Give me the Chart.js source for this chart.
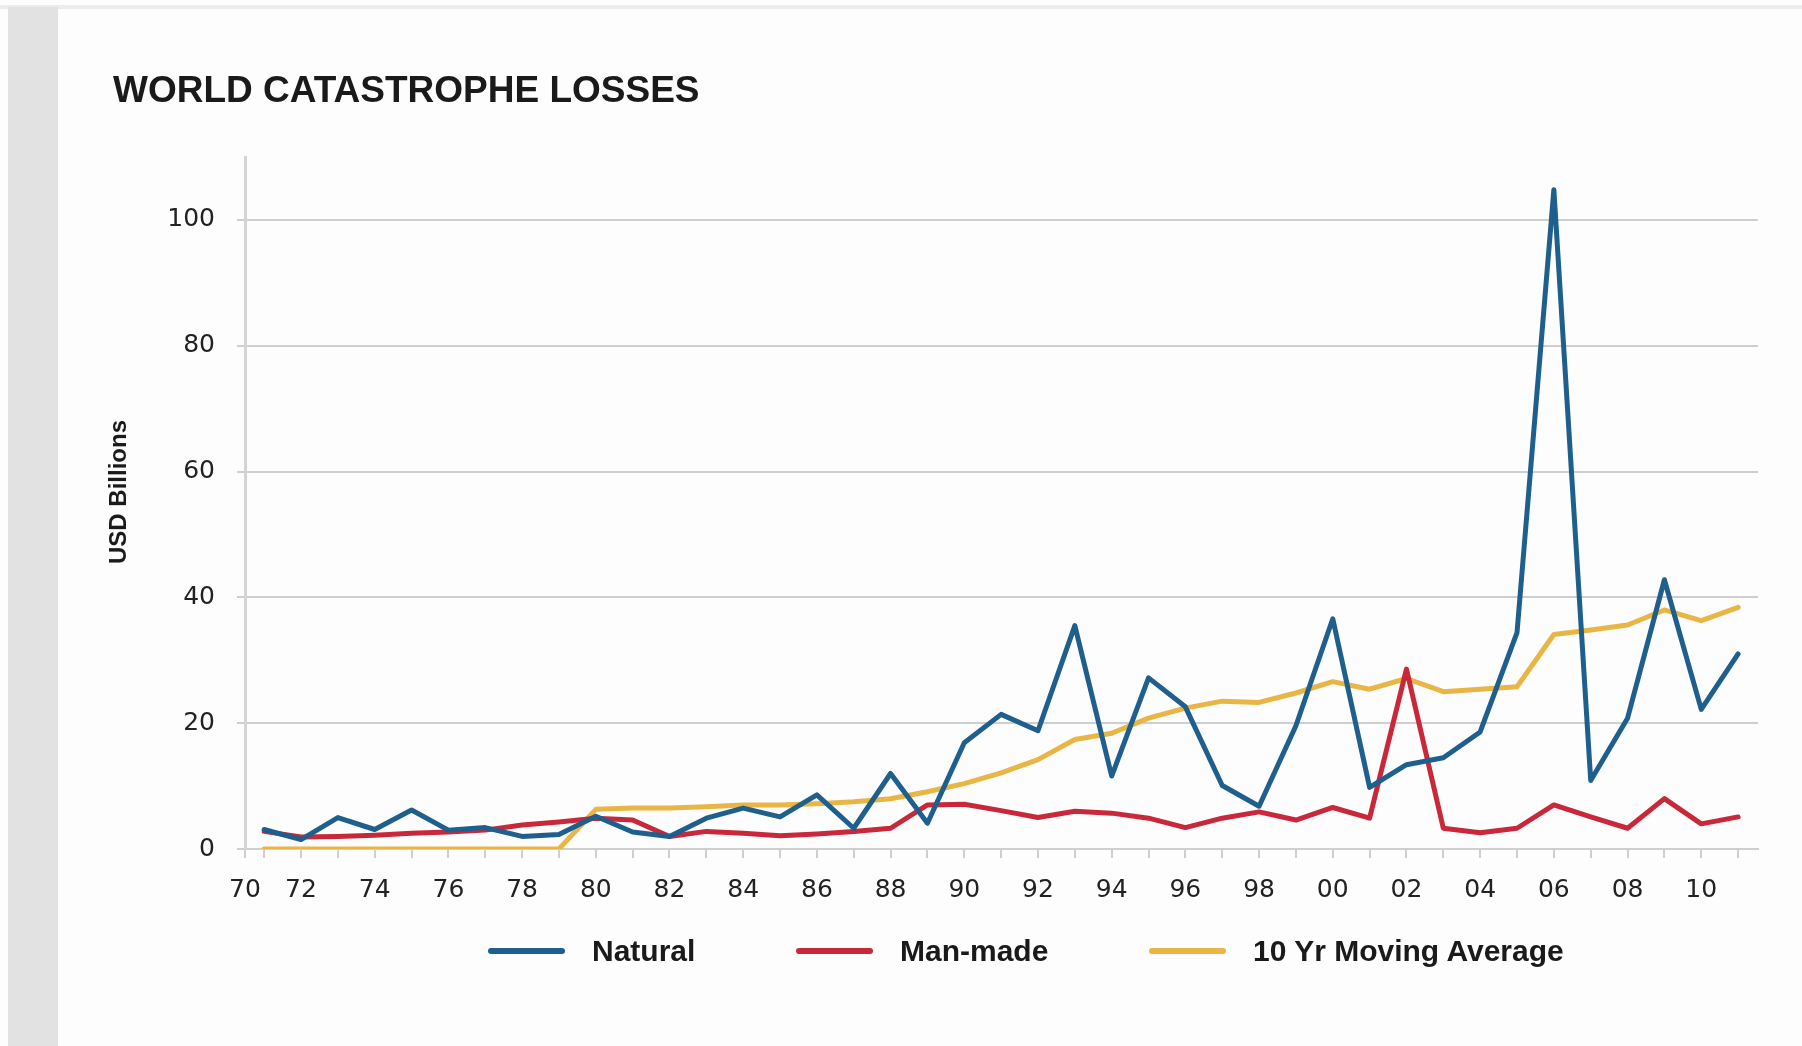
<!DOCTYPE html>
<html>
<head>
<meta charset="utf-8">
<script src="https://cdn.jsdelivr.net/npm/chart.js@4/dist/chart.umd.min.js"></script>
<style>
  html, body { margin: 0; padding: 0; background: #ffffff; }
  #wrap { position: relative; width: 1802px; height: 1046px; overflow: hidden; background: #fdfdfd; }
  #topline { position: absolute; left: 0; top: 5px; width: 1802px; height: 4px; background: #ececec; }
  #strip { position: absolute; left: 8px; top: 7px; width: 50px; height: 1039px; background: #e2e2e2; }
  #title { position: absolute; left: 113px; top: 69px; font: bold 37px "Liberation Sans", Arial, sans-serif; color: #1a1a1a; white-space: nowrap; }
  #ytitle { position: absolute; left: 118px; top: 492px; transform: translate(-50%, -50%) rotate(-90deg); font: bold 24px "Liberation Sans", Arial, sans-serif; color: #1a1a1a; white-space: nowrap; }
  #legend { position: absolute; top: 934px; left: 0; height: 34px; }
  .li { position: absolute; top: 0; height: 34px; display: flex; align-items: center; white-space: nowrap; font: bold 30px "Liberation Sans", Arial, sans-serif; color: #1a1a1a; }
  .sw { width: 77px; height: 6px; border-radius: 3px; margin-right: 27px; }
  canvas { position: absolute; left: 0; top: 0; }
</style>
</head>
<body>
<div id="wrap">
  <div id="topline"></div>
  <div id="strip"></div>
  <canvas id="c" width="1802" height="1046"></canvas>
  <div id="title">WORLD CATASTROPHE LOSSES</div>
  <div id="ytitle">USD Billions</div>
  <div id="legend"></div>
</div>
<script>
const years = [1971,1972,1973,1974,1975,1976,1977,1978,1979,1980,
               1981,1982,1983,1984,1985,1986,1987,1988,1989,1990,
               1991,1992,1993,1994,1995,1996,1997,1998,1999,2000,
               2001,2002,2003,2004,2005,2006,2007,2008,2009,2010,2011];

const natural = [3.1,1.5,5.0,3.1,6.2,3.0,3.4,2.0,2.3,5.2,
                 2.7,2.0,4.9,6.5,5.1,8.6,3.3,12.0,4.1,16.9,
                 21.4,18.8,35.5,11.6,27.2,22.6,10.1,6.8,19.6,36.6,
                 9.8,13.4,14.5,18.6,34.4,104.8,10.9,20.8,42.8,22.2,31.0];

const manMade = [2.8,1.9,2.0,2.2,2.5,2.7,3.0,3.8,4.3,4.9,
                 4.6,2.0,2.8,2.5,2.1,2.4,2.8,3.3,7.0,7.1,
                 6.1,5.0,6.0,5.7,4.9,3.4,4.9,5.9,4.6,6.6,
                 4.9,28.6,3.3,2.6,3.3,7.0,5.1,3.3,8.0,4.0,5.1];

const movingAvg = [0,0,0,0,0,0,0,0,0,6.3,
                   6.5,6.5,6.7,7.0,7.0,7.2,7.5,8.0,9.1,10.4,
                   12.1,14.2,17.4,18.4,20.8,22.4,23.5,23.3,24.8,26.6,
                   25.4,27.1,25.0,25.4,25.8,34.1,34.8,35.6,38.0,36.3,38.4];

const seriesNames = ["Natural", "Man-made", "10 Yr Moving Average"];
const seriesColors = ["#1f5f8e", "#c8283a", "#e9b545"];

const yTicks = [0, 20, 40, 60, 80, 100];
const xMin = 1970.48, xMax = 2011.54;

function pts(vals) { return years.map((y, i) => ({ x: y, y: vals[i] })); }

const grid = "#cfcfcf";

new Chart(document.getElementById("c"), {
  type: "line",
  data: {
    datasets: [
      { label: seriesNames[0], data: pts(natural), borderColor: seriesColors[0], backgroundColor: seriesColors[0] },
      { label: seriesNames[1], data: pts(manMade), borderColor: seriesColors[1], backgroundColor: seriesColors[1] },
      { label: seriesNames[2], data: pts(movingAvg), borderColor: seriesColors[2], backgroundColor: seriesColors[2] }
    ]
  },
  options: {
    responsive: false,
    animation: false,
    events: [],
    layout: { padding: { top: 157, right: 44, bottom: 137, left: 0 } },
    elements: {
      line: { borderWidth: 5, tension: 0, borderCapStyle: "round", borderJoinStyle: "round" },
      point: { radius: 0 }
    },
    plugins: { legend: { display: false }, title: { display: false }, tooltip: { enabled: false } },
    scales: {
      x: {
        type: "linear",
        min: xMin, max: xMax,
        afterBuildTicks: (s) => { s.ticks = [xMin].concat(years).map(v => ({ value: v })); },
        afterFit: (s) => { s.height = 60; },
        ticks: {
          autoSkip: false, maxRotation: 0, padding: 17,
          color: "#222222",
          font: { family: "DejaVu Sans", size: 25 },
          callback: (v) => {
            if (v === xMin) return "70";
            return (v % 2 === 0) ? String(v % 100).padStart(2, "0") : "";
          }
        },
        grid: { display: true, drawOnChartArea: false, drawTicks: true, tickLength: 9, color: grid, lineWidth: 2 },
        border: { display: true, color: grid, width: 2 }
      },
      y: {
        type: "linear",
        min: 0, max: 110,
        afterBuildTicks: (s) => { s.ticks = yTicks.map(v => ({ value: v })); },
        afterFit: (s) => { s.width = 245; },
        ticks: { padding: 22, color: "#222222", font: { family: "DejaVu Sans", size: 25 } },
        grid: { color: grid, lineWidth: 2, tickLength: 8 },
        border: { display: true, color: "#d4d4d4", width: 3 }
      }
    }
  }
});

// legend built from the series names / colours
const legendX = [488, 796, 1149];
const lg = document.getElementById("legend");
seriesNames.forEach((n, i) => {
  const d = document.createElement("div");
  d.className = "li";
  d.style.left = legendX[i] + "px";
  const sw = document.createElement("span");
  sw.className = "sw";
  sw.style.background = seriesColors[i];
  const t = document.createElement("span");
  t.textContent = n;
  d.appendChild(sw); d.appendChild(t);
  lg.appendChild(d);
});
</script>
</body>
</html>
